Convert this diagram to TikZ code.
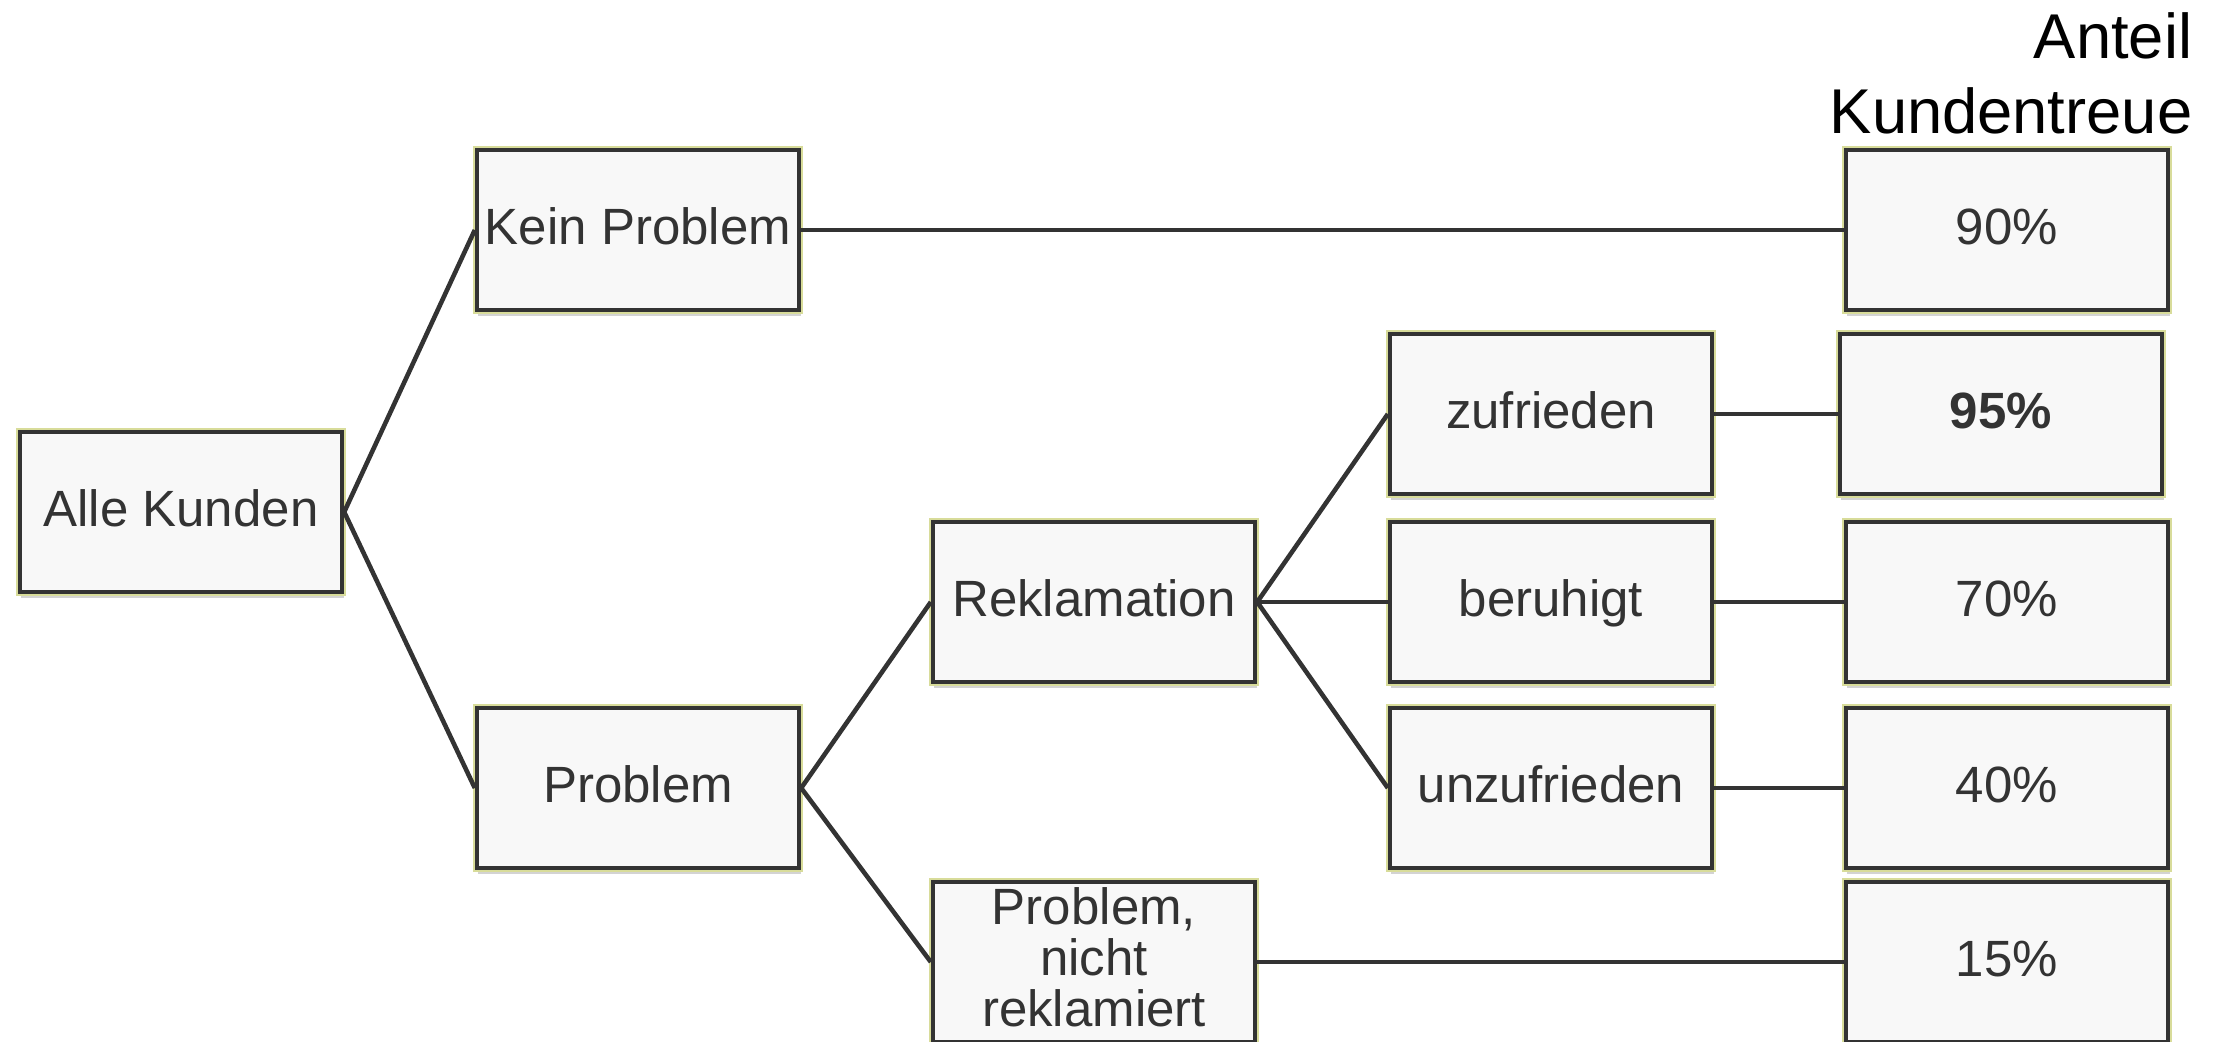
\documentclass[tikz,border=0pt]{standalone}
\usepackage{fontspec}
\setmainfont{Liberation Sans}
\usetikzlibrary{shadows}
\definecolor{boxline}{HTML}{333333}
\definecolor{boxfill}{HTML}{F8F8F8}
\definecolor{rimline}{HTML}{D8DC9A}

\begin{document}
\begin{tikzpicture}
  [x=0.01cm, y=-0.01cm,
   box/.style={rectangle, draw=boxline, line width=1.2pt, fill=boxfill,
     minimum width=3.22cm, minimum height=1.6cm, inner sep=0pt, align=center,
     text=boxline, font=\fontsize{14.5}{14.5}\selectfont,
     execute at begin node={\rule[-3pt]{0pt}{14.5pt}},
     drop shadow={opacity=0.35, shadow xshift=0.4pt, shadow yshift=-1.6pt},
     preaction={draw=rimline, line width=2.4pt}},
   link/.style={draw=boxline, line width=1.3pt}]
  \useasboundingbox (0,0) rectangle (2226,1042);

  \node (alle) at (181,512) [box] {Alle Kunden};
  \node (kein) at (638,230) [box] {Kein Problem};
  \node (prob) at (638,788) [box] {Problem};
  \node (rekl) at (1094,602) [box] {Reklamation};
  \node (nrekl) at (1094,962) [box, execute at begin node={}] {Problem,\\nicht\\reklamiert};
  \node (zufr) at (1551,414) [box] {zufrieden};
  \node (beru) at (1551,602) [box] {beruhigt};
  \node (unzu) at (1551,788) [box] {unzufrieden};

  % Anteil Kundentreue
  \foreach \n/\y/\v in {p90/230/90\%, p70/602/70\%, p40/788/40\%, p15/962/15\%}{
    \node (\n) at (2007,\y) [box] {\v};
  }
  \node (p95) at (2001,414) [box, font=\fontsize{14.5}{14.5}\selectfont\bfseries] {95\%};
  \node (head) at (2193,12) [anchor=north east, inner sep=0pt, align=right,
    font=\fontsize{18}{21.3}\selectfont] {Anteil\\Kundentreue};

  \draw [link] (alle.east) to (kein.west);
  \draw [link] (alle.east) to (prob.west);
  \draw [link] (prob.east) to (rekl.west);
  \draw [link] (prob.east) to (nrekl.west);
  \draw [link] (rekl.east) to (zufr.west);
  \draw [link] (rekl.east) to (beru.west);
  \draw [link] (rekl.east) to (unzu.west);
  \draw [link] (kein.east) to (p90.west);
  \draw [link] (zufr.east) to (p95.west);
  \draw [link] (beru.east) to (p70.west);
  \draw [link] (unzu.east) to (p40.west);
  \draw [link] (nrekl.east) to (p15.west);
\end{tikzpicture}
\end{document}
